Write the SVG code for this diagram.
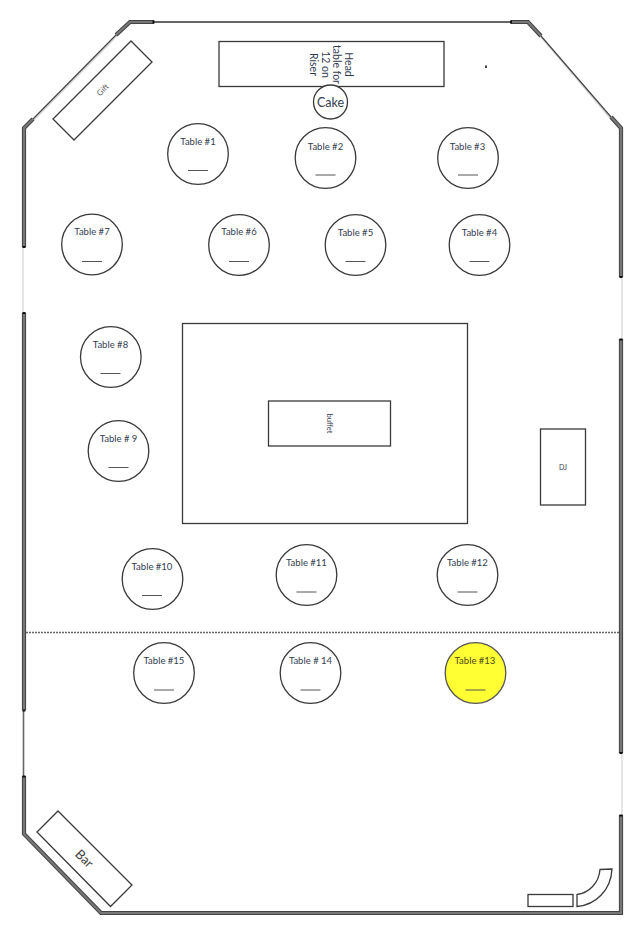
<svg xmlns="http://www.w3.org/2000/svg" width="641" height="936" viewBox="0 0 641 936">
<style>
text{font-family:Lato,"Noto Sans","Liberation Sans",sans-serif;fill:#333c50;text-anchor:middle}
.t{font-size:9.500px}
.h{font-size:10.500px}
.tb{fill:#fff;stroke:#3a3a3a;stroke-width:1.300}
.open{fill:none}
.wall{fill:none;stroke:#444;stroke-width:4.200;stroke-linejoin:miter}
.core{fill:none;stroke:#777;stroke-width:2.200}
.thin{fill:none;stroke:#666;stroke-width:1.600}
.pale{fill:none;stroke:#d4d4d4;stroke-width:1.200}
.cap{fill:#111}
.u{stroke:#555;stroke-width:1}
</style>
<rect width="641" height="936" fill="#fff"/>
<g id="walls">
<path class="pale" d="M117 36L34 120M541 37L610 118"/>
<path class="thin" style="stroke:#444;stroke-width:1.200" d="M116 35L33 119M541 36L611 117"/>
<path class="thin" style="stroke-width:2" d="M154 22H510"/>
<path class="wall" d="M24 247V128L33 119M116 35L130 22H154"/>
<path class="core" d="M24 247V128L33 119M116 35L130 22H154"/>
<path class="wall" d="M511 22H528L541 36M611 117L621 128V277"/>
<path class="core" d="M511 22H528L541 36M611 117L621 128V277"/>
<path class="pale" d="M622 277V339M622 753V815"/>
<path class="pale" d="M23 247V312"/>
<path class="wall" d="M24 313V710"/><path class="core" d="M24 313V710"/>
<path class="thin" d="M23.500 710V776"/>
<path class="wall" d="M24 776V834L101 913H621V815"/>
<path class="core" d="M24 776V834L101 913H621V815"/>
<path class="wall" d="M621 339V753"/><path class="core" d="M621 339V753"/>
<rect class="cap" x="22.500" y="246" width="3" height="2"/>
<rect class="cap" x="22.500" y="312" width="3" height="2"/>
<rect class="cap" x="22.500" y="709.500" width="3" height="2"/>
<rect class="cap" x="22.500" y="775.500" width="3" height="2"/>
<rect class="cap" x="619.500" y="276" width="3" height="2"/>
<rect class="cap" x="619.500" y="338.500" width="3" height="2"/>
<rect class="cap" x="619.500" y="752" width="3" height="2"/>
<rect class="cap" x="619.500" y="814.500" width="3" height="2"/>
<rect class="cap" x="152.500" y="20.500" width="2" height="3"/>
<rect class="cap" x="510" y="20.500" width="2" height="3"/>
</g>
<g id="connectors">
<path d="M26 632.500H619" fill="none" stroke="#666" stroke-width="1.300" stroke-dasharray="2 1"/>
</g>
<g id="gift"><path class="tb" d="M131 41L152 62L74 140L53 119Z"/><text transform="translate(103 90) rotate(-45)" y="2.500" style="font-size:8px;fill:#666">Gift</text></g>
<g id="head-table"><rect class="tb" x="219" y="41.500" width="225" height="45"/>
<text class="h" transform="translate(345 64.500) rotate(90)">Head</text>
<text class="h" transform="translate(333 64.500) rotate(90)">table for</text>
<text class="h" transform="translate(321.500 64.500) rotate(90)">12 on</text>
<text class="h" transform="translate(310 64.500) rotate(90)">Riser</text>
</g>
<g id="dot"><rect x="485" y="65.500" width="2" height="2.500" fill="#444"/></g>
<g id="cake"><circle class="tb" cx="330.500" cy="102" r="17"/><text x="330.500" y="106.500" style="font-size:12.500px">Cake</text></g>
<g id="table-1"><circle class="tb" cx="198" cy="154" r="30.300"/><text class="t" x="198" y="145">Table #1</text><path class="u" d="M188 170.500H208"/></g>
<g id="table-2"><circle class="tb" cx="325.500" cy="158" r="30.300"/><text class="t" x="325.500" y="150">Table #2</text><path class="u" d="M315.500 175H335.500"/></g>
<g id="table-3"><circle class="tb" cx="468" cy="158" r="30.300"/><text class="t" x="467.500" y="150">Table #3</text><path class="u" d="M458 175H478"/></g>
<g id="table-4"><circle class="tb" cx="479.500" cy="245" r="30.300"/><text class="t" x="479.500" y="236">Table #4</text><path class="u" d="M469.500 261.500H489.500"/></g>
<g id="table-5"><circle class="tb" cx="355.500" cy="245" r="30.300"/><text class="t" x="355.500" y="236">Table #5</text><path class="u" d="M345.500 261.500H365.500"/></g>
<g id="table-6"><circle class="tb" cx="239" cy="245" r="30.300"/><text class="t" x="239" y="235">Table #6</text><path class="u" d="M229 261.500H249"/></g>
<g id="table-7"><circle class="tb" cx="92" cy="244.500" r="30.300"/><text class="t" x="92" y="235">Table #7</text><path class="u" d="M82 261.500H102"/></g>
<g id="table-8"><circle class="tb" cx="110.800" cy="357" r="30.300"/><text class="t" x="110.500" y="348">Table #8</text><path class="u" d="M100.500 373.500H120.500"/></g>
<g id="table-9"><circle class="tb" cx="118.500" cy="451" r="30.300"/><text class="t" x="118.500" y="442">Table # 9</text><path class="u" d="M108.500 467.500H128.500"/></g>
<g id="buffet-area"><rect class="tb" x="182.500" y="323.500" width="285" height="200"/></g>
<g id="buffet"><rect class="tb" x="268.500" y="401" width="122" height="45"/><text transform="translate(329 423.500) rotate(90)" y="2" style="font-size:7.500px">buffet</text></g>
<g id="dj"><rect class="tb" x="540.500" y="429" width="45" height="76"/><text x="563" y="469.500" style="font-size:7px">DJ</text></g>
<g id="table-10"><circle class="tb" cx="152.500" cy="579" r="30.300"/><text class="t" x="152" y="570">Table #10</text><path class="u" d="M142 595.500H162"/></g>
<g id="table-11"><circle class="tb" cx="306.500" cy="575" r="30.300"/><text class="t" x="306.500" y="566">Table #11</text><path class="u" d="M296.500 592H316.500"/></g>
<g id="table-12"><circle class="tb" cx="467.500" cy="575" r="30.300"/><text class="t" x="467.500" y="566">Table #12</text><path class="u" d="M457.500 592H477.500"/></g>
<g id="table-15"><circle class="tb" cx="164" cy="673" r="30.300"/><text class="t" x="164" y="664">Table #15</text><path class="u" d="M154 690H174"/></g>
<g id="table-14"><circle class="tb" cx="310.500" cy="673" r="30.300"/><text class="t" x="310.500" y="664">Table # 14</text><path class="u" d="M300.500 690H320.500"/></g>
<g id="table-13"><circle class="tb" style="fill:#ffff33;stroke:#555" cx="475.500" cy="673" r="30.300"/><text class="t" x="475" y="664" style="fill:#4a4a20">Table #13</text><path class="u" d="M465.500 690H485.500"/></g>
<g id="bar"><path class="tb" d="M58 811L132 885L110.500 906.500L37 832Z"/><text transform="translate(84 859) rotate(45)" y="4" style="font-size:13px;fill:#444">Bar</text></g>
<g id="counter"><rect class="tb" x="528" y="894.500" width="45" height="12"/></g>
<g id="curved-counter"><path class="tb" d="M577 894.500C589 893 599 883 600 869.500L612 869C611 890 596 905 577 906.500Z"/></g>
</svg>
